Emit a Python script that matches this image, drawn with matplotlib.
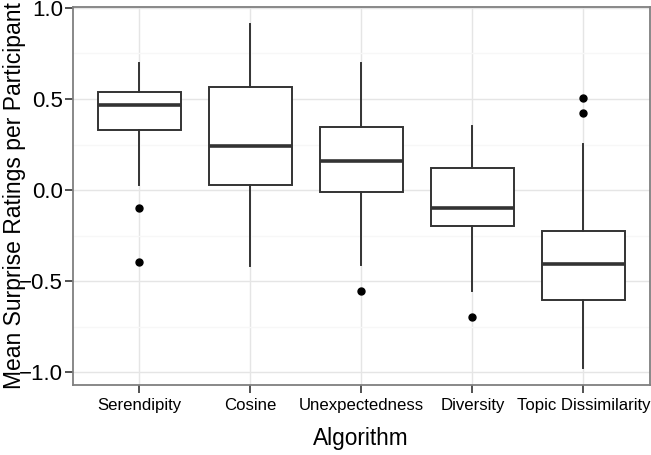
import matplotlib
matplotlib.use('Agg')
import matplotlib.pyplot as plt
from matplotlib.ticker import MultipleLocator

# box statistics
algorithms = ['Serendipity', 'Cosine', 'Unexpectedness', 'Diversity', 'Topic Dissimilarity']
whisker_low = [0.03, -0.42, -0.41, -0.555, -0.98]
q1 = [0.33, 0.027, -0.013, -0.198, -0.604]
median = [0.467, 0.243, 0.158, -0.099, -0.408]
q3 = [0.54, 0.564, 0.346, 0.121, -0.225]
whisker_high = [0.70, 0.912, 0.70, 0.352, 0.251]
outliers = [[-0.097, -0.394], [], [-0.557], [-0.696], [0.504, 0.421]]

plt.rcParams['font.family'] = ['Liberation Sans', 'DejaVu Sans']

fig = plt.figure(figsize=(6.51, 4.55), dpi=100)
ax = fig.add_axes([0.1117, 0.1538, 0.8868, 0.8315])

stats = []
for i in range(len(algorithms)):
    stats.append({'whislo': whisker_low[i], 'q1': q1[i], 'med': median[i],
                  'q3': q3[i], 'whishi': whisker_high[i], 'fliers': outliers[i]})

edge = '#333333'
ax.bxp(stats, positions=range(1, 6), widths=0.75, showcaps=False, patch_artist=True,
       boxprops=dict(facecolor='white', edgecolor=edge, linewidth=1.4),
       whiskerprops=dict(color=edge, linewidth=1.4),
       medianprops=dict(color=edge, linewidth=2.6, solid_capstyle='butt'),
       flierprops=dict(marker='o', markerfacecolor='black', markeredgecolor='black',
                       markersize=5),
       zorder=3)

ax.set_xlim(0.4, 5.6)
ax.set_ylim(-1.071, 1.007)
ax.yaxis.set_major_locator(MultipleLocator(0.5))
ax.yaxis.set_minor_locator(MultipleLocator(0.25))
ax.set_xticks(range(1, 6))
ax.set_xticklabels(algorithms)
ax.set_yticklabels([('%.1f' % v).replace('-', '\u2212') for v in ax.get_yticks()])

ax.grid(which='major', color='#e5e5e5', linewidth=1.0, zorder=0)
ax.grid(which='minor', axis='y', color='#f7f7f7', linewidth=1.0, zorder=0)
ax.set_axisbelow(True)
for s in ax.spines.values():
    s.set_color('#7f7f7f')
    s.set_linewidth(1.3)

ax.tick_params(which='major', length=5.5, width=1.2, color='#333333',
               labelcolor='black')
ax.tick_params(axis='x', labelsize=12.1, pad=4)
ax.tick_params(axis='y', labelsize=16, pad=1.5)
ax.tick_params(which='minor', length=0)

# axis titles placed like the reference (the y title overlaps the tick labels)
fig.text(0.5545, 1 - 445 / 455, 'Algorithm', fontsize=16.3, ha='center', va='baseline')
fig.text(15 / 651, 1 - 196 / 455, 'Mean Surprise Ratings per Participant', fontsize=16.5,
         rotation=90, ha='center', va='center')

fig.savefig('out.png', dpi=100)
